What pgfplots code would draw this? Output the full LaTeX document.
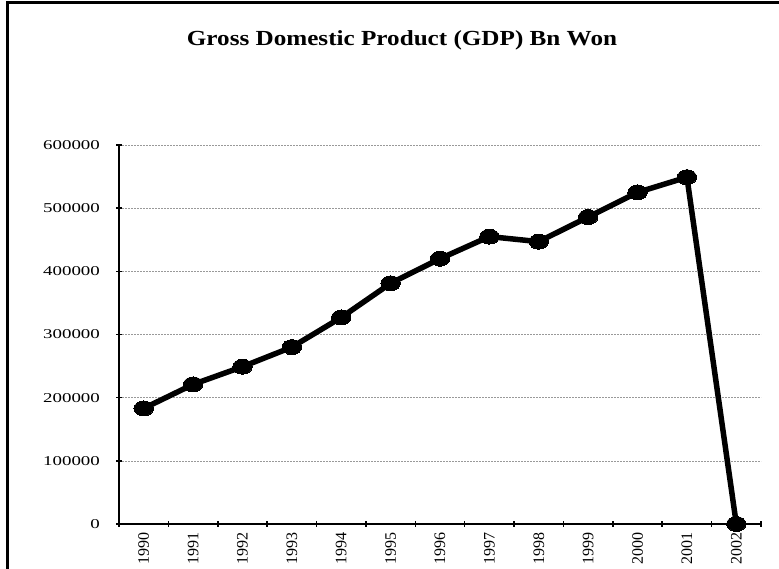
\documentclass[border=0pt]{standalone}
\usepackage{fontspec}
\setmainfont{Liberation Serif}
\usepackage{pgfplots}
\pgfplotsset{compat=1.18}
\begin{document}
\begin{tikzpicture}[x=1pt,y=1pt]
\path[use as bounding box] (0,0) rectangle (779,569);
\draw[line width=2.5pt] (7.5,0) -- (7.5,566.5) -- (779,566.5);
\node[anchor=base, font=\fontsize{21.5}{25}\selectfont\bfseries, xscale=1.17] at (402,523) {Gross Domestic Product (GDP) Bn Won};
\begin{axis}[
  at={(119pt,45pt)}, anchor=south west,
  scale only axis, width=642pt, height=379pt,
  xmin=-0.5, xmax=12.5, ymin=0, ymax=600000,
  axis x line*=bottom, axis y line*=left,
  axis line style={line width=1.8pt, -},
  xtick={0,...,12},
  xticklabels={1990,1991,1992,1993,1994,1995,1996,1997,1998,1999,2000,2001,2002},
  major x tick style={draw=none},
  minor xtick={-0.5,0.5,...,12.5},
  minor x tick style={line width=1.5pt, black},
  minor tick length=6pt,
  ytick={0,100000,...,600000},
  y tick style={line width=1.5pt, black},
  major tick length=6pt,
  tick align=center,
  ymajorgrids, major grid style={gray!80, dash pattern=on 2pt off 1pt, line width=0.6pt},
  /pgf/number format/assume math mode=true,
  /pgf/number format/fixed,
  /pgf/number format/set thousands separator={},
  scaled y ticks=false,
  yticklabel style={font=\fontsize{13.5}{15}\selectfont, xscale=1.4, anchor=east, xshift=-8pt},
  xticklabel style={font=\fontsize{16}{18}\selectfont, rotate=90, anchor=east, xshift=-2pt},
  clip=false,
]
\addplot[black, line width=5.5pt, mark=*, mark size=7.5pt, mark options={xscale=1.3, line width=0pt}] coordinates {
 (0,183000) (1,221000) (2,249000) (3,280000) (4,327000) (5,381000) (6,420000)
 (7,455000) (8,447000) (9,486000) (10,525000) (11,549000) (12,0)
};
\end{axis}
\end{tikzpicture}
\end{document}
